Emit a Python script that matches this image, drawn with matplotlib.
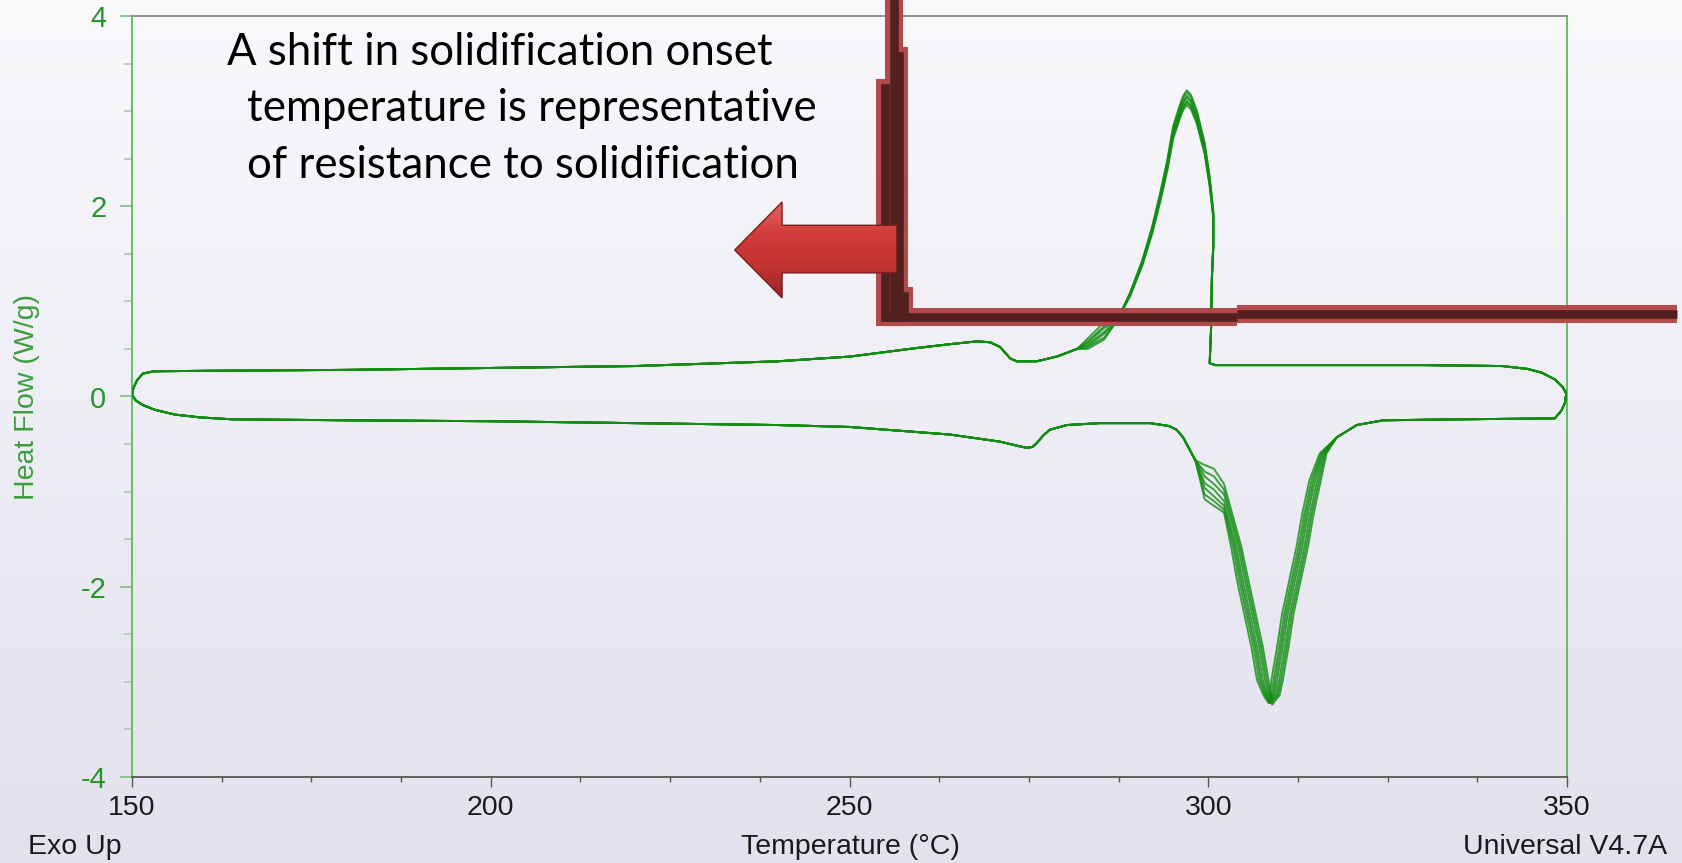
import numpy as np
import matplotlib.pyplot as plt
from matplotlib.patches import Polygon
from matplotlib.ticker import MultipleLocator
from matplotlib.colors import LinearSegmentedColormap

plt.rcParams['axes.unicode_minus'] = False

W, H = 1682, 863

# cooling scan, read from 350 C down to 150 C (exo up)
cool_T = [349.9, 349.4, 348.3, 346.5, 344.5, 341.0, 330.0, 315.0, 305.0, 301.0,
          300.2, 300.4, 300.5, 300.7, 300.7, 300.2, 299.5, 298.4, 297.6, 297.0,
          296.5, 296.1, 295.1, 294.3, 293.3, 292.2, 290.8, 289.1, 287.3, 285.5,
          283.2, 281.7, 278.9, 276.1, 273.3, 272.4, 271.0, 269.6, 267.8, 264.0,
          259.4, 250.1, 240.0, 220.0, 200.0, 180.0, 160.0, 153.0, 151.5, 150.7,
          150.2, 150.0]
cool_hf = [0.03, 0.10, 0.18, 0.25, 0.29, 0.32, 0.33, 0.33, 0.33, 0.33,
           0.35, 0.73, 1.26, 1.61, 1.96, 2.31, 2.67, 3.01, 3.17, 3.22,
           3.16, 3.08, 2.84, 2.49, 2.14, 1.79, 1.43, 1.09, 0.80, 0.63,
           0.53, 0.50, 0.42, 0.37, 0.37, 0.40, 0.52, 0.57, 0.58, 0.55,
           0.51, 0.42, 0.37, 0.32, 0.30, 0.28, 0.27, 0.265, 0.24, 0.17,
           0.09, 0.02]

# heating scan, read from 150 C up to 350 C
heat_T = [150.0, 150.5, 151.5, 153.2, 156.0, 159.5, 164.0, 180.0, 200.0, 220.0,
          240.0, 250.0, 264.0, 271.0, 273.5, 274.7, 275.5, 276.1, 277.0, 277.9,
          280.3, 284.9, 291.9, 294.5, 295.6, 296.5, 297.2, 298.2,
          299.5, 300.8, 302.2,
          303.9, 304.8, 305.8, 306.8, 307.6, 308.2, 308.6, 308.9, 309.3, 309.6,
          310.4, 311.1, 312.1, 313.1, 313.9, 314.9, 316.0, 317.9, 320.7, 324.4,
          335.0, 348.3, 349.2, 349.7, 349.9]
heat_hf = [0.02, -0.04, -0.09, -0.14, -0.19, -0.22, -0.24, -0.25, -0.26, -0.28,
           -0.30, -0.32, -0.40, -0.475, -0.52, -0.54, -0.53, -0.49, -0.41, -0.35,
           -0.30, -0.28, -0.28, -0.31, -0.35, -0.43, -0.53, -0.67,
           -0.85, -0.95, -1.08,
           -1.58, -1.93, -2.28, -2.63, -2.98, -3.14, -3.22, -3.24, -3.14, -2.98,
           -2.63, -2.28, -1.93, -1.58, -1.23, -0.88, -0.60, -0.43, -0.30, -0.25,
           -0.24, -0.23, -0.15, -0.07, 0.03]
shoulder_idx = [28, 29, 30]

# cycle to cycle differences
cycle_peak = [3.22, 3.19, 3.15, 3.13, 3.09, 3.07, 3.04]
cycle_tail = [[0.50, 0.60], [0.52, 0.62], [0.53, 0.66], [0.55, 0.68],
              [0.57, 0.72], [0.58, 0.74], [0.61, 0.78]]
cycle_shoulder = [[-0.72, -0.76, -0.92], [-0.79, -0.84, -0.98],
                  [-0.84, -0.92, -1.03], [-0.91, -0.98, -1.10],
                  [-0.96, -1.05, -1.15], [-1.03, -1.10, -1.19],
                  [-1.08, -1.15, -1.22]]
cycle_shift = [0.8, 0.55, 0.3, 0.0, -0.25, -0.5, -0.8]
cycle_min = [-3.24, -3.19, -3.22, -3.15, -3.20, -3.12, -3.17]

# annotation overlay
step_T = [256.2, 256.9, 254.9, 257.6]
step_top = [4.3, 3.58, 3.24, 1.06]
step_level = [0.835, 0.87]
step_break = 304.0
step_end = 365.3
note_lines = ["A shift in solidification onset",
              "temperature is representative",
              "of resistance to solidification"]

green = '#128c12'

fig = plt.figure(figsize=(W / 100, H / 100), dpi=100)

# soft vertical gradient behind everything
bg = fig.add_axes([0, 0, 1, 1], zorder=-10)
grad = np.linspace(0, 1, 256).reshape(-1, 1)
bg.imshow(grad, aspect='auto', extent=[0, 1, 0, 1],
          cmap=LinearSegmentedColormap.from_list('bg', ['#f9f9fc', '#e2e1ed']))
bg.axis('off')

ax = fig.add_axes([132 / W, 1 - 777 / H, 1435 / W, 761 / H])
ax.set_facecolor('none')

cT = np.array(cool_T)
hT = np.array(heat_T)
w = np.interp(hT, [303.0, 304.0, 307.8, 308.9, 309.4, 315.0, 317.5],
              [0, 1, 1, 0, 1, 1, 0])
for i in range(len(cycle_peak)):
    y = np.array(cool_hf)
    pk = (cT > 287.5) & (cT < 300.8) & (y > 0.9)
    y[pk] = 0.45 + (y[pk] - 0.45) * cycle_peak[i] / max(cool_hf)
    y[cool_T.index(283.2)] = cycle_tail[i][0]
    y[cool_T.index(285.5)] = cycle_tail[i][1]
    ax.plot(cT, y, color=green, lw=1.4, alpha=0.8, zorder=3)

    y2 = np.array(heat_hf)
    for k, j in enumerate(shoulder_idx):
        y2[j] = cycle_shoulder[i][k]
    y2[heat_T.index(308.9)] = cycle_min[i]
    ax.plot(hT + w * cycle_shift[i], y2, color=green, lw=1.4, alpha=0.8, zorder=3)

ax.set_xlim(150, 350)
ax.set_ylim(-4, 4)
ax.xaxis.set_major_locator(MultipleLocator(50))
ax.xaxis.set_minor_locator(MultipleLocator(12.5))
ax.yaxis.set_major_locator(MultipleLocator(2))
ax.yaxis.set_minor_locator(MultipleLocator(0.5))
ax.tick_params(axis='x', which='major', length=7, width=1, color='#555555',
               labelsize=20.5, labelcolor='#1a1a1a', pad=6)
ax.tick_params(axis='x', which='minor', length=3.5, width=1, color='#555555')
ax.tick_params(axis='y', which='major', length=8.5, width=1.2, color='#7cc07c',
               labelsize=21, labelcolor='#27952a', pad=10)
ax.tick_params(axis='y', which='minor', length=5.5, width=1.2, color='#a8cfa8')
for lab in ax.get_xticklabels() + ax.get_yticklabels():
    lab.set_family('Liberation Sans')

ax.spines['left'].set_color('#5cb85c')
ax.spines['right'].set_color('#5cb85c')
ax.spines['top'].set_color('#8c8c8c')
ax.spines['bottom'].set_color('#555555')
for s in ax.spines.values():
    s.set_linewidth(1.3)

# dark red step showing the onset, drawn over the traces
for lw, col in [(13, '#b14a4a'), (6.2, '#532020')]:
    for t, top in zip(step_T, step_top):
        ax.plot([t, t], [top, step_level[0]], color=col, lw=lw,
                solid_capstyle='projecting', clip_on=False, zorder=5)
    ax.plot([min(step_T), step_break], [step_level[0]] * 2, color=col, lw=lw,
            solid_capstyle='butt', clip_on=False, zorder=5)
    ax.plot([step_break, step_end], [step_level[1]] * 2, color=col, lw=lw,
            solid_capstyle='butt', clip_on=False, zorder=5)

# left-pointing red arrow
arrow_xy = [(234.0, 1.54), (240.6, 2.045), (240.6, 1.80), (256.6, 1.80),
            (256.6, 1.30), (240.6, 1.30), (240.6, 1.036)]
arrow = Polygon(arrow_xy, closed=True, facecolor='none', edgecolor='#7a1e1e',
                lw=1.0, zorder=7)
ax.add_patch(arrow)
shade = ax.imshow(np.linspace(0, 1, 64).reshape(-1, 1), aspect='auto',
                  extent=[233.5, 257, 1.0, 2.08], zorder=6,
                  cmap=LinearSegmentedColormap.from_list(
                      'arr', ['#e66a6a', '#d23c3c', '#c23232', '#992525']),
                  origin='upper')
shade.set_clip_path(arrow)

# annotation text
note_x = [227, 247, 247]
note_base = [65, 121, 178]
for txt, x, yb in zip(note_lines, note_x, note_base):
    fig.text(x / W, 1 - yb / H, txt, family='Lato', fontsize=31.5,
             color='black', ha='left', va='baseline')

lab_kw = dict(family='Liberation Sans', fontsize=20.5, color='#1a1a1a', va='center')
fig.text(28 / W, 1 - 847 / H, 'Exo Up', ha='left', **lab_kw)
fig.text(850 / W, 1 - 847 / H, 'Temperature (°C)', ha='center', **lab_kw)
fig.text(1667 / W, 1 - 847 / H, 'Universal V4.7A', ha='right', **lab_kw)
fig.text(27 / W, 1 - 397 / H, 'Heat Flow (W/g)', family='Liberation Sans',
         fontsize=20.5, color='#3d9e3d', rotation=90, ha='center', va='center')

fig.savefig('out.png', dpi=100)
